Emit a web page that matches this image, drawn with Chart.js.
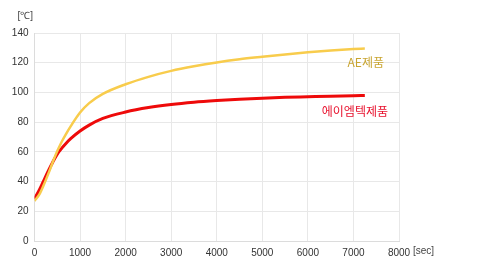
<!DOCTYPE html>
<html><head><meta charset="utf-8">
<script src="https://cdn.jsdelivr.net/npm/chart.js@4/dist/chart.umd.min.js"></script>
<style>html,body{margin:0;padding:0;background:#fff}#wrap{width:480px;height:276px;position:relative}</style>
</head><body><div id="wrap"><canvas id="c" width="480" height="276"></canvas></div>
<script>
const timeSec = [0,100,200,300,400,500,600,700,800,1000,1200,1500,2000,2500,3000,3500,4000,4500,5000,5500,6000,6500,7000,7250];
const aeTemp = [27,31,37.5,45,53,60.5,67,72.5,77.5,86.5,92.8,99,105.5,110.5,114.5,117.6,120.2,122.3,124,125.6,127,128.2,129.2,129.6];
const amtTemp = [28.5,34,40.5,47,53,58.5,62.5,66,69,74,78,82.5,86.8,89.8,91.9,93.4,94.5,95.4,96.1,96.7,97.1,97.5,97.8,97.9];
const seriesNames = ['AE제품','에이엠텍제품'];
const xTicks = [0,1000,2000,3000,4000,5000,6000,7000,8000];
const yTicks = [0,20,40,60,80,100,120,140];
const yUnit = '[℃]';
const xUnit = '[sec]';

const toPts = (ys) => timeSec.map((x,i)=>({x:x,y:ys[i]}));
const FONT = 'Liberation Sans';

const labelPlugin = {
  id:'labels',
  afterDraw(chart){
    const ctx = chart.ctx, xs = chart.scales.x, ys = chart.scales.y;
    ctx.save();
    ctx.font = '12px "Noto Sans CJK KR"';
    ctx.textAlign='right'; ctx.textBaseline='middle';
    ctx.fillStyle='#c9a531';
    ctx.fillText(seriesNames[0], xs.right-15, ys.getPixelForValue(120));
    ctx.fillStyle='#e8112d';
    ctx.fillText(seriesNames[1], xs.right-11, ys.getPixelForValue(87));
    ctx.font = '10px '+FONT; ctx.fillStyle='#444';
    ctx.textAlign='left';
    ctx.fillText(yUnit, xs.left-17, ys.top-17);
    ctx.fillText(xUnit, xs.right+14, ys.bottom+10);
    ctx.restore();
  }
};

new Chart(document.getElementById('c'), {
  type:'line',
  data:{datasets:[
    {label:seriesNames[0], data:toPts(aeTemp), borderColor:'#f8cc4c', borderWidth:2.5, pointRadius:0, cubicInterpolationMode:'monotone', fill:false},
    {label:seriesNames[1], data:toPts(amtTemp), borderColor:'#ee0a0a', borderWidth:3, pointRadius:0, cubicInterpolationMode:'monotone', fill:false}
  ]},
  options:{
    responsive:false, animation:false,
    layout:{padding:{top:33,right:81,left:0,bottom:0}},
    plugins:{legend:{display:false},tooltip:{enabled:false}},
    scales:{
      x:{type:'linear',min:0,max:8000,
        afterBuildTicks:(s)=>{s.ticks=xTicks.map(v=>({value:v}));},
        afterFit:(s)=>{s.height=35;},
        grid:{color:'#e8e8e8',drawTicks:false},
        border:{color:'#dcdcdc'},
        ticks:{padding:6,font:{family:FONT,size:10},color:'#333',maxRotation:0,callback:(v)=>String(v)}},
      y:{min:0,max:140,
        afterBuildTicks:(s)=>{s.ticks=yTicks.map(v=>({value:v}));},
        afterFit:(s)=>{s.width=34.5;},
        grid:{color:'#e8e8e8',drawTicks:false},
        border:{color:'#dcdcdc'},
        ticks:{padding:6,font:{family:FONT,size:10},color:'#333',callback:(v)=>String(v)}}
    }
  },
  plugins:[labelPlugin]
});
</script></body></html>
